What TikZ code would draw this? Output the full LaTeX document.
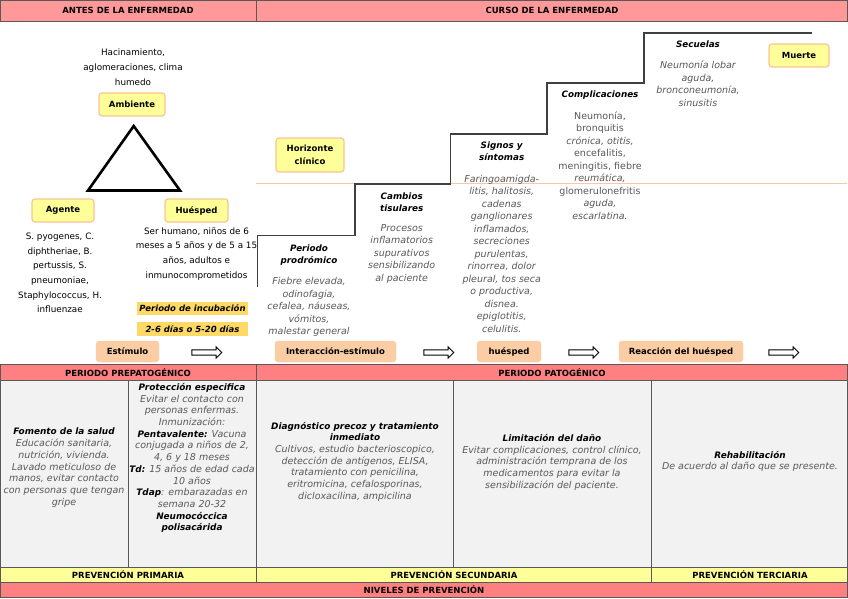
\documentclass[tikz,border=0pt]{standalone}
\usepackage{fontspec}
\setmainfont{DejaVu Sans}
\usepackage{tikz}
\usetikzlibrary{shapes.arrows}
\definecolor{hdrpink}{HTML}{FF9999}
\definecolor{rowpink}{HTML}{FF8080}
\definecolor{cellgrey}{HTML}{F2F2F2}
\definecolor{rowyellow}{HTML}{FFFF99}
\definecolor{goldbar}{HTML}{FFD966}
\definecolor{peach}{HTML}{FBCDA4}
\definecolor{peachline}{HTML}{FAD3B2}
\definecolor{boxline}{HTML}{FAC493}
\definecolor{horizon}{HTML}{F8C9A0}
\definecolor{gridline}{HTML}{595959}
\definecolor{stairline}{HTML}{404040}
\definecolor{txtgrey}{HTML}{595959}
\newcommand{\cellc}[5]{\filldraw[fill=#1, draw=gridline, line width=0.8pt] ( #2 , #3 ) rectangle ( #4 , #5 );}
\newcommand{\bk}[1]{{\fontsize{8.9}{11.7}\selectfont\bfseries\color{black}#1}}

\begin{document}
\begin{tikzpicture}[x=1pt, y=-1pt,
    hdr/.style={font=\bfseries\fontsize{8.5}{10}\selectfont, inner sep=0pt, anchor=base},
    ybox/.style={draw=boxline, line width=1.2pt, fill=rowyellow, rounded corners=3pt,
      font=\bfseries\fontsize{8.5}{12.7}\selectfont, align=center, inner sep=0pt},
    pbox/.style={draw=peachline, fill=peach, rounded corners=3pt, minimum height=21pt,
      font=\bfseries\fontsize{8.5}{10}\selectfont, inner sep=0pt},
    gbar/.style={fill=goldbar, minimum width=111pt, minimum height=13.5pt, inner sep=0pt,
      font=\bfseries\itshape\fontsize{8.5}{10}\selectfont},
    plain/.style={font=\fontsize{8.8}{14.6}\selectfont, align=center, inner sep=0pt},
    stephead/.style={font=\bfseries\itshape\fontsize{8.8}{11.7}\selectfont, align=center, inner sep=0pt},
    stepdesc/.style={font=\itshape\fontsize{9.5}{12.5}\selectfont, text=txtgrey, align=center, inner sep=0pt},
    celltext/.style={font=\itshape\fontsize{9.5}{11.7}\selectfont, text=txtgrey, align=center, inner sep=0pt},
    blockarrow/.style={single arrow, draw=black, line width=0.9pt, fill=white, minimum height=30pt,
      minimum width=11pt, inner xsep=0pt, inner ysep=2.2pt, single arrow head extend=3pt}]
    \useasboundingbox (0,0) rectangle (848,599);
    \fill[white] (0,0) rectangle (848,599);
    % header
    \cellc{hdrpink}{0.5}{0.5}{256}{21}
    \cellc{hdrpink}{256}{0.5}{847.5}{21}
    \node[hdr] (antes) at (128,14) {ANTES DE LA ENFERMEDAD};
    \node[hdr] (curso) at (552,14) {CURSO DE LA ENFERMEDAD};
    % triada
    \node[plain] (ambtxt) at (133,67.3) {Hacinamiento,\\aglomeraciones, clima\\humedo};
    \node[ybox, minimum width=66pt, minimum height=23pt] (ambiente) at (132,104.5) {Ambiente};
    \draw[line width=2.6pt, line join=miter] (133.7,126) -- (180,190.5) -- (88,190.5) -- cycle;
    \node[ybox, minimum width=62pt, minimum height=23pt] (agente) at (63,210.5) {Agente};
    \node[ybox, minimum width=63pt, minimum height=23pt] (huesped) at (196.5,210.5) {Huésped};
    \node[plain] (agetxt) at (60,273) {S. pyogenes, C.\\diphtheriae, B.\\pertussis, S.\\pneumoniae,\\Staphylococcus, H.\\influenzae};
    \node[plain] (huetxt) at (196.5,253.7) {Ser humano, niños de 6\\meses a 5 años y de 5 a 15\\años, adultos e\\inmunocomprometidos};
    \node[gbar] (incub) at (192.5,308.5) {Periodo de incubación};
    \node[gbar] (dias) at (192.5,329) {2-6 días o 5-20 días};
    % horizonte y escalera
    \draw[horizon, line width=1pt] (256,183.3) -- (847,183.3);
    \node[ybox, minimum width=68pt, minimum height=34pt] (horiz) at (310,155) {Horizonte\\clínico};
    \draw[stairline, line width=1.2pt] (257.7,287) |- (355,235.7) |- (450.5,184) |- (547,134) |- (644,83) |- (812,33);
    \node[ybox, minimum width=60pt, minimum height=23pt] (muerte) at (799,55.5) {Muerte};
    % escalones
    \node[stephead] (prodh) at (309,255) {Periodo\\prodrómico};
    \node[stepdesc] (prodd) at (309,307) {Fiebre elevada,\\odinofagia,\\cefalea, náuseas,\\vómitos,\\malestar general};
    \node[stephead] (camh) at (401.7,202.3) {Cambios\\tisulares};
    \node[stepdesc] (camd) at (401.7,254) {Procesos\\inflamatorios\\supurativos\\sensibilizando\\al paciente};
    \node[stephead] (sigh) at (501.7,151) {Signos y\\síntomas};
    \node[stepdesc] (sigd) at (501.7,253.5) {Faringoamigda-\\litis, halitosis,\\cadenas\\ganglionares\\inflamados,\\secreciones\\purulentas,\\rinorrea, dolor\\pleural, tos seca\\o productiva,\\disnea.\\epiglotitis,\\celulitis.};
    \node[stephead] (comh) at (600,95) {Complicaciones};
    \node[stepdesc] (comd) at (600,165.3) {\upshape Neumonía,\\\upshape bronquitis\\crónica, otitis,\\\upshape encefalitis,\\\upshape meningitis, fiebre\\reumática,\\\upshape glomerulonefritis\\aguda,\\escarlatina.};
    \node[stephead] (sech) at (698,44) {Secuelas};
    \node[stepdesc] (secd) at (698,84) {Neumonía lobar\\aguda,\\bronconeumonía,\\sinusitis};
    % estimulos
    \node[pbox, minimum width=63pt] (estim) at (127.5,351.5) {Estímulo};
    \node[blockarrow] (arr1) at (205.5,352.5) {};
    \node[pbox, minimum width=121pt] (inter) at (335.5,351.5) {Interacción-estímulo};
    \node[blockarrow] (arr2) at (437.5,352.5) {};
    \node[pbox, minimum width=64pt] (hues) at (509,351.5) {huésped};
    \node[blockarrow] (arr3) at (582.5,352.5) {};
    \node[pbox, minimum width=124pt] (reacc) at (681,351.5) {Reacción del huésped};
    \node[blockarrow] (arr4) at (782.5,352.5) {};
    % periodos
    \cellc{rowpink}{0.5}{364.5}{256.5}{380}
    \cellc{rowpink}{256.5}{364.5}{847.5}{380}
    \node[hdr] (prepat) at (128,376.5) {PERIODO PREPATOGÉNICO};
    \node[hdr] (pat) at (552,376.5) {PERIODO PATOGÉNICO};
    % cuerpo
    \cellc{cellgrey}{0.5}{380}{128}{567.5}
    \cellc{cellgrey}{128}{380}{256.5}{567.5}
    \cellc{cellgrey}{256.5}{380}{453}{567.5}
    \cellc{cellgrey}{453}{380}{651.5}{567.5}
    \cellc{cellgrey}{651.5}{380}{847.5}{567.5}
    \node[celltext] (fomento) at (64,467.7) {\bk{Fomento de la salud}\\Educación sanitaria,\\nutrición, vivienda.\\Lavado meticuloso de\\manos, evitar contacto\\con personas que tengan\\gripe};
    \node[celltext] (proteccion) at (192,458) {\bk{Protección especifica}\\Evitar el contacto con\\personas enfermas.\\Inmunización:\\\bk{Pentavalente:} Vacuna\\conjugada a niños de 2,\\4, 6 y 18 meses\\\bk{Td:} 15 años de edad cada\\10 años\\\bk{Tdap}: embarazadas en\\semana 20-32\\\bk{Neumocóccica}\\\bk{polisacárida}};
    \node[celltext] (diagnostico) at (355,461.7) {\bk{Diagnóstico precoz y tratamiento}\\\bk{inmediato}\\Cultivos, estudio bacterioscopico,\\detección de antígenos, ELISA,\\tratamiento con penicilina,\\eritromicina, cefalosporinas,\\dicloxacilina, ampicilina};
    \node[celltext] (limitacion) at (552,462.3) {\bk{Limitación del daño}\\Evitar complicaciones, control clínico,\\administración temprana de los\\medicamentos para evitar la\\sensibilización del paciente.};
    \node[celltext] (rehab) at (750,461.5) {\bk{Rehabilitación}\\De acuerdo al daño que se presente.};
    % prevencion
    \cellc{rowyellow}{0.5}{567.5}{256.5}{582.5}
    \cellc{rowyellow}{256.5}{567.5}{651.5}{582.5}
    \cellc{rowyellow}{651.5}{567.5}{847.5}{582.5}
    \node[hdr] (primaria) at (128,578.5) {PREVENCIÓN PRIMARIA};
    \node[hdr] (secundaria) at (454,578.5) {PREVENCIÓN SECUNDARIA};
    \node[hdr] (terciaria) at (750,578.5) {PREVENCIÓN TERCIARIA};
    \cellc{rowpink}{0.5}{582.5}{847.5}{597.5}
    \node[hdr] (niveles) at (424,593.5) {NIVELES DE PREVENCIÓN};
\end{tikzpicture}
\end{document}
